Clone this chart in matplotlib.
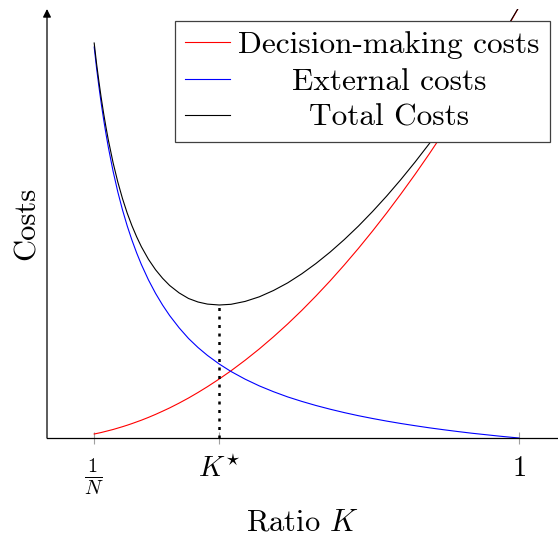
import matplotlib
matplotlib.use("Agg")
import matplotlib.pyplot as plt

plt.rcParams['font.family'] = 'serif'
plt.rcParams['font.serif'] = ['cmr10']
plt.rcParams['mathtext.fontset'] = 'cm'
plt.rcParams['axes.formatter.use_mathtext'] = True

# ---- data ----
ratio = [0.100, 0.105, 0.110, 0.115, 0.120, 0.125, 0.130, 0.140, 0.150, 0.160,
         0.170, 0.180, 0.190, 0.200, 0.215, 0.230, 0.245, 0.260, 0.280, 0.300,
         0.320, 0.340, 0.365, 0.390, 0.420, 0.450, 0.480, 0.510, 0.540, 0.570,
         0.600, 0.630, 0.660, 0.690, 0.720, 0.750, 0.780, 0.810, 0.840, 0.870,
         0.900, 0.930, 0.960, 1.000]
decision_costs = [0.040, 0.045, 0.050, 0.055, 0.061, 0.067, 0.073, 0.085, 0.099, 0.113,
                  0.128, 0.144, 0.161, 0.178, 0.206, 0.236, 0.268, 0.301, 0.349, 0.400,
                  0.455, 0.513, 0.590, 0.672, 0.778, 0.891, 1.012, 1.140, 1.276, 1.420,
                  1.571, 1.730, 1.896, 2.070, 2.251, 2.440, 2.636, 2.840, 3.052, 3.271,
                  3.498, 3.732, 3.974, 4.308]
external_costs = [3.910, 3.700, 3.515, 3.343, 3.186, 3.041, 2.907, 2.669, 2.462, 2.281,
                  2.121, 1.979, 1.851, 1.735, 1.581, 1.447, 1.329, 1.224, 1.102, 0.995,
                  0.905, 0.826, 0.740, 0.665, 0.588, 0.521, 0.463, 0.411, 0.366, 0.325,
                  0.288, 0.254, 0.223, 0.195, 0.169, 0.145, 0.123, 0.102, 0.083, 0.065,
                  0.048, 0.033, 0.018, 0.000]
total_costs = [3.950, 3.745, 3.565, 3.398, 3.247, 3.108, 2.980, 2.754, 2.561, 2.394,
               2.249, 2.123, 2.012, 1.913, 1.787, 1.683, 1.597, 1.525, 1.451, 1.395,
               1.360, 1.339, 1.330, 1.337, 1.366, 1.412, 1.475, 1.551, 1.642, 1.745,
               1.859, 1.984, 2.119, 2.265, 2.420, 2.585, 2.759, 2.942, 3.135, 3.336,
               3.546, 3.765, 3.992, 4.308]
k_star = 0.365
k_star_cost = 1.33
tick_pos = [0.1, k_star, 1.0]
tick_labels = [r'$\frac{1}{N}$', r'$K^{\star}$', r'$1$']

W, H = 558, 539
fig = plt.figure(figsize=(W / 100, H / 100), dpi=100)
ax = fig.add_axes([47 / W, (H - 438) / H, (W - 47) / W, (438 - 9) / H])

ax.plot(ratio, decision_costs, color='red', lw=0.8, label='Decision-making costs')
ax.plot(ratio, external_costs, color='blue', lw=0.8, label='External costs')
ax.plot(ratio, total_costs, color='black', lw=0.8, label='Total Costs')
ax.plot([k_star, k_star], [0, k_star_cost], color='black', lw=1.8,
        linestyle=(0, (1.2, 2.2)))

ax.set_xlim(0, 1.083)
ax.set_ylim(0, 4.29)

ax.spines['top'].set_visible(False)
ax.spines['right'].set_visible(False)
ax.spines['left'].set_visible(False)
ax.spines['bottom'].set_linewidth(0.9)
ax.annotate('', xy=(0, 1.0), xytext=(0, 0), xycoords='axes fraction',
            arrowprops=dict(arrowstyle='-|>', color='black', lw=0.9,
                            mutation_scale=12, shrinkA=0, shrinkB=0))

ax.set_xticks(tick_pos)
ax.set_xticklabels(tick_labels, fontsize=20.5)
ax.tick_params(axis='x', direction='inout', length=8, width=0.8,
               color='#a0a0a0', pad=9)
ax.set_yticks([])

ax.set_xlabel(r'Ratio $K$', fontsize=22)
ax.xaxis.set_label_coords(0.5, -0.198)
ax.xaxis.label.set_va('center')
ax.set_ylabel('Costs', fontsize=22)
ax.yaxis.set_label_coords(-0.039, 0.5)
ax.yaxis.label.set_va('center')

leg = ax.legend(loc='upper right', bbox_to_anchor=(550 / W, 1 - 21 / H),
                bbox_transform=fig.transFigure, borderaxespad=0,
                fontsize=22.5, handlelength=1.44, handletextpad=0.26,
                labelspacing=0.27, borderpad=0.33, fancybox=False,
                framealpha=1, edgecolor='#404040')
leg.get_frame().set_linewidth(0.9)

# centre the legend texts like pgfplots does
fig.canvas.draw()
renderer = fig.canvas.get_renderer()
widths = [t.get_window_extent(renderer).width for t in leg.get_texts()]
maxw = max(widths)
for t, w in zip(leg.get_texts(), widths):
    t.set_position(((maxw - w) / 2, 0))

fig.savefig('out.png', dpi=100)
